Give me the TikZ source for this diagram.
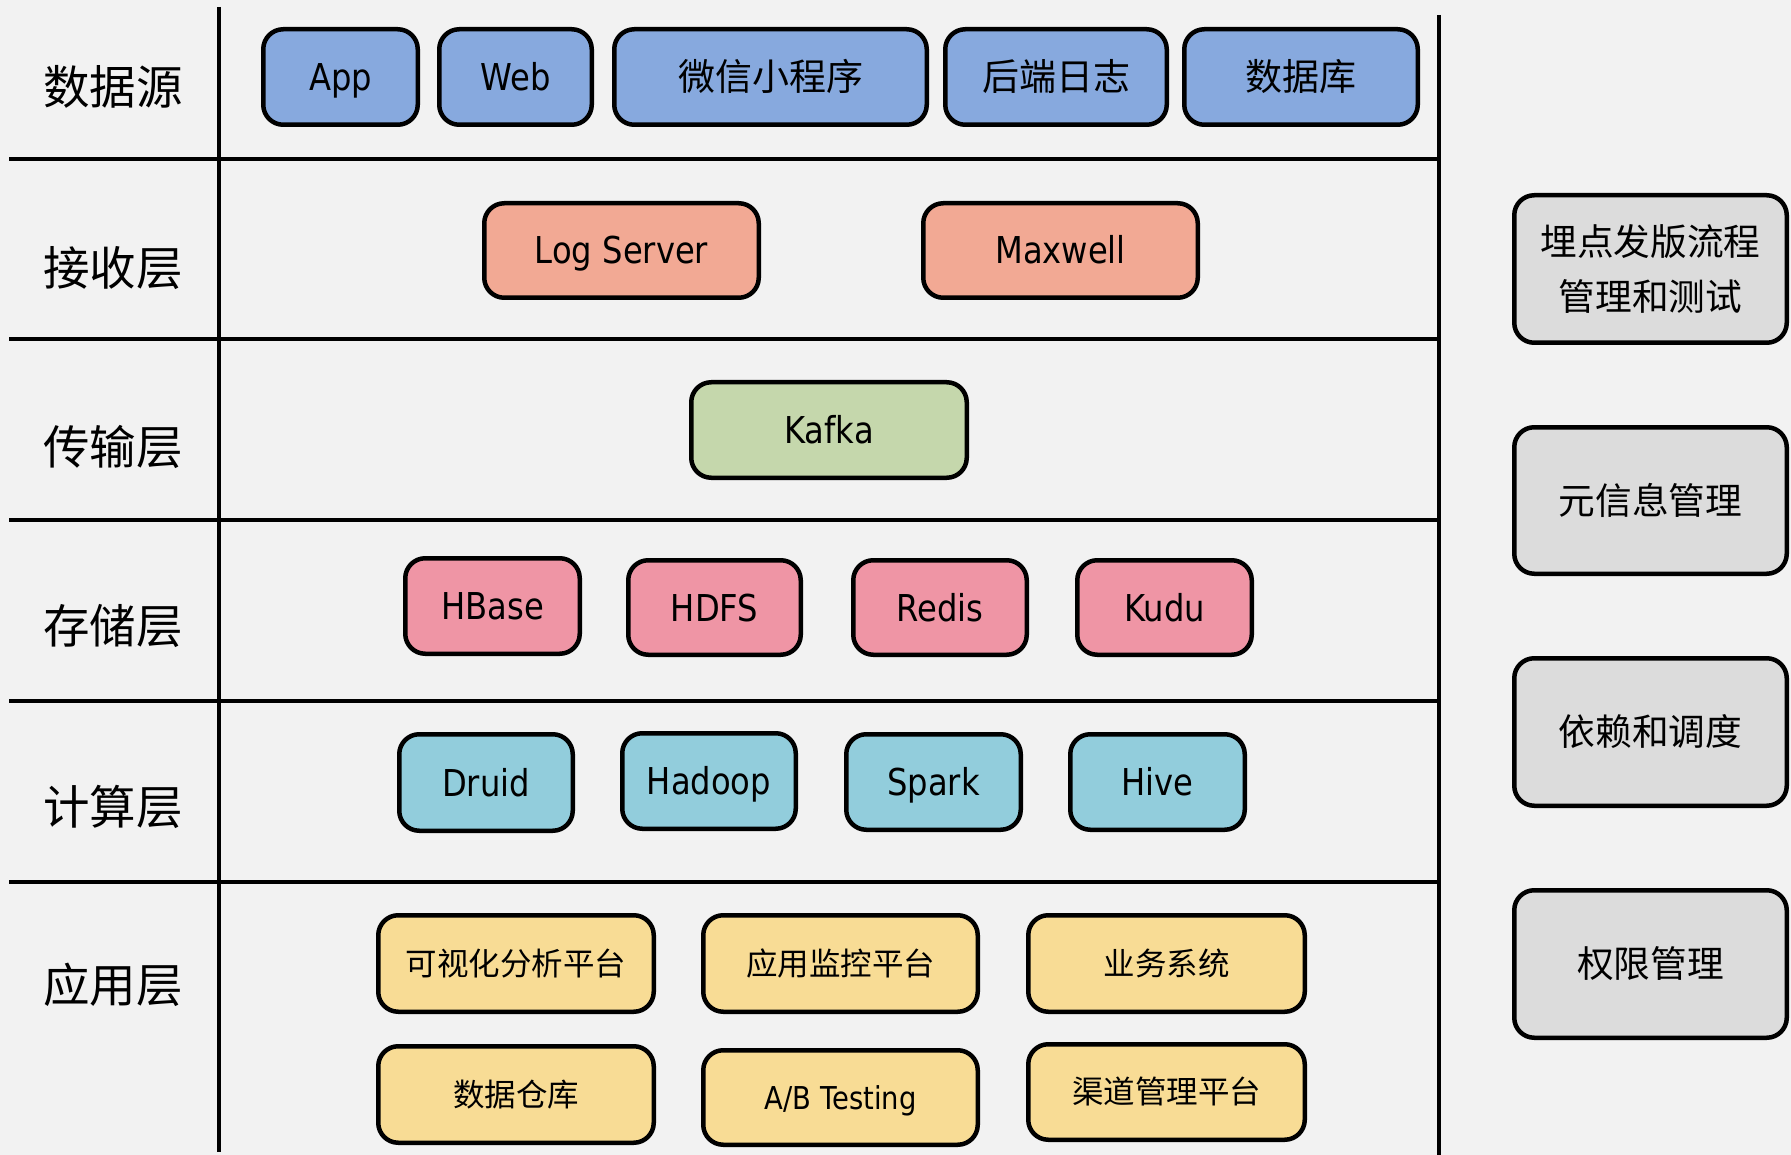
\documentclass[tikz,border=0pt]{standalone}
\usepackage{fontspec}
\setmainfont{Noto Sans CJK SC}
\newfontfamily\latf[FakeStretch=0.87]{DejaVu Sans}
\definecolor{bg}{HTML}{F2F2F2}
\definecolor{cblue}{HTML}{87A9DE}
\definecolor{csalmon}{HTML}{F2A994}
\definecolor{cgreen}{HTML}{C5D7AC}
\definecolor{cpink}{HTML}{EF95A5}
\definecolor{ccyan}{HTML}{92CDDC}
\definecolor{cyellow}{HTML}{F8DC95}
\definecolor{cgray}{HTML}{DCDCDC}
\newcommand{\mybox}[7]{%
  \node[box,#6,minimum width={#3-#2-4.5},minimum height={#5-#4-4.5}] (#1) at ({(#2+#3)/2},{(#4+#5)/2}) {#7};}
\begin{document}
\begin{tikzpicture}[x=1pt,y=-1pt,
  box/.style={draw=black,line width=4.5pt,rounded corners=20pt,inner sep=0pt,align=center,
    font=\fontsize{37}{44}\selectfont,text height=27pt,text depth=0pt},
  small/.style={font=\fontsize{31.5}{40}\selectfont,text height=23pt,text depth=0pt},
  side/.style={fill=cgray,font=\fontsize{36.7}{55}\selectfont,text height=27pt,text depth=0pt},
  twoline/.style={text height=,text depth=},
  sep/.style={line width=4.6pt,black},
  rowlabel/.style={font=\fontsize{46.5}{50}\selectfont,inner sep=0pt}]
\fill[bg] (0,0) rectangle (1791,1155);
\useasboundingbox (0,0) rectangle (1791,1155);
% separators
\draw[sep] (219,7) -- (219,1152);
\draw[sep] (1439,15) -- (1439,1155);
\foreach \yy in {159,339,520,701,882} {\draw[sep] (9,\yy) -- (1439,\yy);}
% row labels
\node[rowlabel] (l1) at (113,87) {数据源};
\node[rowlabel] (l2) at (113,268) {接收层};
\node[rowlabel] (l3) at (113,447) {传输层};
\node[rowlabel] (l4) at (113,626) {存储层};
\node[rowlabel] (l5) at (113,807) {计算层};
\node[rowlabel] (l6) at (113,985) {应用层};
% row 1
\mybox{app}{261}{420}{27}{127}{fill=cblue}{\latf App}
\mybox{web}{437}{594}{27}{127}{fill=cblue}{\latf Web}
\mybox{wx}{612}{929}{27}{127}{fill=cblue}{微信小程序}
\mybox{hd}{943}{1169}{27}{127}{fill=cblue}{后端日志}
\mybox{db}{1182}{1420}{27}{127}{fill=cblue}{数据库}
% row 2
\mybox{log}{482}{761}{201}{300}{fill=csalmon}{\latf Log Server}
\mybox{mx}{921}{1200}{201}{300}{fill=csalmon}{\latf Maxwell}
% row 3
\mybox{kafka}{689}{969}{380}{480}{fill=cgreen}{\latf Kafka}
% row 4
\mybox{hbase}{403}{582}{556}{656}{fill=cpink}{\latf HBase}
\mybox{hdfs}{626}{803}{558}{657}{fill=cpink}{\latf HDFS}
\mybox{redis}{851}{1029}{558}{657}{fill=cpink}{\latf Redis}
\mybox{kudu}{1075}{1254}{558}{657}{fill=cpink}{\latf Kudu}
% row 5
\mybox{druid}{397}{575}{732}{833}{fill=ccyan}{\latf Druid}
\mybox{hadoop}{620}{798}{731}{831}{fill=ccyan}{\latf Hadoop}
\mybox{spark}{844}{1023}{732}{832}{fill=ccyan}{\latf Spark}
\mybox{hive}{1068}{1247}{732}{832}{fill=ccyan}{\latf Hive}
% row 6
\mybox{vis}{376}{656}{913}{1014}{fill=cyellow,small}{可视化分析平台}
\mybox{mon}{701}{980}{913}{1014}{fill=cyellow,small}{应用监控平台}
\mybox{biz}{1026}{1307}{913}{1014}{fill=cyellow,small}{业务系统}
\mybox{dw}{376}{656}{1044}{1145}{fill=cyellow,small}{数据仓库}
\mybox{ab}{701}{980}{1048}{1147}{fill=cyellow,small}{\latf A/B Testing}
\mybox{chan}{1026}{1307}{1042}{1142}{fill=cyellow,small}{渠道管理平台}
% side boxes
\mybox{s1}{1512}{1789}{193}{345}{side,twoline}{埋点发版流程\\管理和测试}
\mybox{s2}{1512}{1789}{425}{576}{side}{元信息管理}
\mybox{s3}{1512}{1789}{656}{808}{side}{依赖和调度}
\mybox{s4}{1512}{1789}{888}{1040}{side}{权限管理}
\end{tikzpicture}
\end{document}
